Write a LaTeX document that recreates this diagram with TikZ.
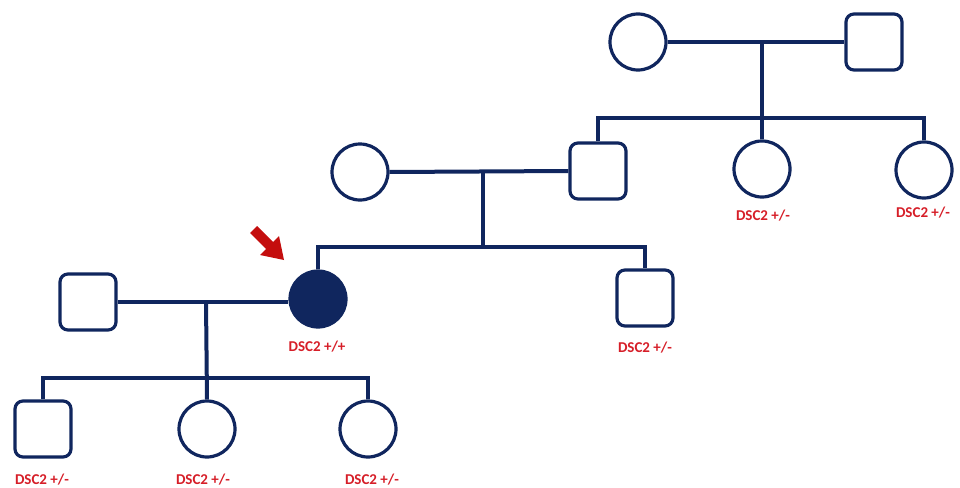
\documentclass[tikz,border=0pt]{standalone}
\usepackage{fontspec}
\setmainfont{Carlito}
\begin{document}
\definecolor{navy}{RGB}{16,38,94}
\definecolor{tagred}{RGB}{214,30,40}
\definecolor{arrowred}{RGB}{196,14,14}
\begin{tikzpicture}[x=1pt,y=-1pt,
  female/.style={circle,draw=navy,line width=3.2pt,minimum size=56pt,inner sep=0pt},
  male/.style={rectangle,rounded corners=8pt,draw=navy,line width=3.2pt,minimum size=56pt,inner sep=0pt},
  affected/.style={female,fill=navy},
  link/.style={draw=navy,line width=4pt},
  tag/.style={text=tagred,font=\bfseries\fontsize{15}{17}\selectfont,inner sep=0pt}]
\useasboundingbox (0,0) rectangle (960,487);

% generation I
\node[female] (gIf) at (638,42) {};
\node[male]   (gIm) at (874,42) {};
% generation II
\node[female] (gIIw) at (360,172) {};
\node[male]   (gIIh) at (598,171) {};
\node[female] (sisA) at (762,169) {};
\node[female] (sisB) at (924,170) {};
% generation III
\node[male]     (spouse)  at (88,302) {};
\node[affected] (proband) at (318,299) {};
\node[male]     (bro)     at (645,298) {};
% generation IV
\node[male]   (kidA) at (43,429) {};
\node[female] (kidB) at (207,429) {};
\node[female] (kidC) at (368,429) {};

% labels
\node[tag] (tSisA) at (763,216) {DSC2 +/-};
\node[tag] (tSisB) at (923,213) {DSC2 +/-};
\node[tag] (tBro)  at (645,348) {DSC2 +/-};
\node[tag] (tProb) at (317,347) {DSC2 +/+};
\node[tag] (tKidA) at (42,480)  {DSC2 +/-};
\node[tag] (tKidB) at (203,480) {DSC2 +/-};
\node[tag] (tKidC) at (372,480) {DSC2 +/-};

% couple I and offspring
\coordinate (mI) at (762,42);
\coordinate (sI) at (762,118);
\draw[link] (gIf.east) -- (gIm.west);
\draw[link] (mI) -- (sisA.north);
\draw[link] (gIIh.north) -- (gIIh.north |- sI) -- (sisB.north |- sI) -- (sisB.north);

% couple II and offspring
\coordinate (mII) at (483,173);
\coordinate (sII) at (483,247);
\draw[link] (gIIw.east) -- (gIIh.west);
\draw[link] (mII) -- (sII);
\draw[link] (proband.north) -- (proband.north |- sII) -- (bro.north |- sII) -- (bro.north);

% couple III and offspring
\coordinate (mIII) at (206,302);
\coordinate (sIII) at (206,378);
\draw[link] (spouse.east) -- (spouse.east -| proband.west);
\draw[link] (mIII) -- (kidB.north);
\draw[link] (kidA.north) -- (kidA.north |- sIII) -- (kidC.north |- sIII) -- (kidC.north);

% proband pointer
\fill[arrowred] (250,233) -- (257,226) -- (273,242) -- (279,236) -- (284,260)
  -- (260,255) -- (266,249) -- cycle;
\end{tikzpicture}
\end{document}
